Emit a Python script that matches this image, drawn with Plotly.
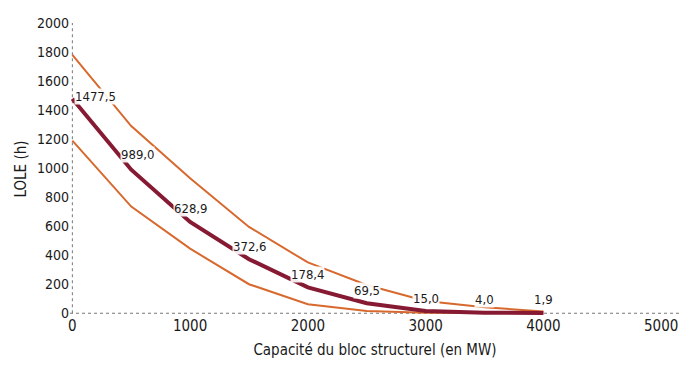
import plotly.graph_objects as go

capacite = [0, 500, 1000, 1500, 2000, 2500, 3000, 3500, 4000]
lole_central = [1477.5, 989.0, 628.9, 372.6, 178.4, 69.5, 15.0, 4.0, 1.9]
lole_haut = [1780, 1290, 930, 595, 350, 195, 85, 42, 12]
lole_bas = [1190, 735, 445, 200, 62, 15, 4, 1, 0.5]
etiquettes = ["1477,5", "989,0", "628,9", "372,6", "178,4", "69,5", "15,0", "4,0", "1,9"]

FONT = "DejaVu Sans Condensed, Liberation Sans Narrow, sans-serif"
ORANGE = "#D8692E"
BORDEAUX = "#861A33"

fig = go.Figure()
fig.add_trace(go.Scatter(x=capacite, y=lole_haut, mode="lines",
                         line=dict(color=ORANGE, width=2), hoverinfo="skip"))
fig.add_trace(go.Scatter(x=capacite, y=lole_bas, mode="lines",
                         line=dict(color=ORANGE, width=2), hoverinfo="skip"))
fig.add_trace(go.Scatter(x=capacite, y=lole_central, mode="lines",
                         line=dict(color=BORDEAUX, width=4), hoverinfo="skip"))

# value labels on the central curve, white boxes mask the band line behind
for i, (x, y, t) in enumerate(zip(capacite, lole_central, etiquettes)):
    if i == 0:
        xa, xs, ys = "left", 2, 2
    elif i == 1:
        xa, xs, ys = "left", -11, 15
    else:
        xa, xs, ys = "center", 0, 13
    fig.add_annotation(x=x, y=y, text=t, showarrow=False, xanchor=xa, yanchor="middle",
                       xshift=xs, yshift=ys, bgcolor="rgba(255,255,255,0.9)", borderpad=0,
                       font=dict(family=FONT, size=13, color="#1a1a1a"))

# dotted axis lines
fig.add_shape(type="line", xref="x", yref="y", x0=0, x1=0, y0=0, y1=2000,
              line=dict(color="#777", width=1, dash="dot"), layer="below")
fig.add_shape(type="line", xref="paper", yref="y", x0=0, x1=1, y0=0, y1=0,
              line=dict(color="#777", width=1, dash="dot"), layer="below")

fig.update_layout(
    width=680, height=365,
    margin=dict(l=70, r=0, t=23, b=50),
    paper_bgcolor="white", plot_bgcolor="white",
    showlegend=False,
    font=dict(family=FONT, size=14, color="#1a1a1a"),
)
fig.update_xaxes(range=[-20, 5160], tickvals=[0, 1000, 2000, 3000, 4000, 5000],
                 showgrid=False, zeroline=False, showline=False, ticks="",
                 tickfont=dict(size=15),
                 title=dict(text="Capacité du bloc structurel (en MW)",
                            font=dict(size=15), standoff=10))
fig.update_yaxes(range=[-12, 2000], tickvals=list(range(0, 2001, 200)),
                 showgrid=False, zeroline=False, showline=False, ticks="",
                 tickfont=dict(size=14),
                 title=dict(text="LOLE (h)", font=dict(size=15), standoff=6))

fig.write_html("out.html")
